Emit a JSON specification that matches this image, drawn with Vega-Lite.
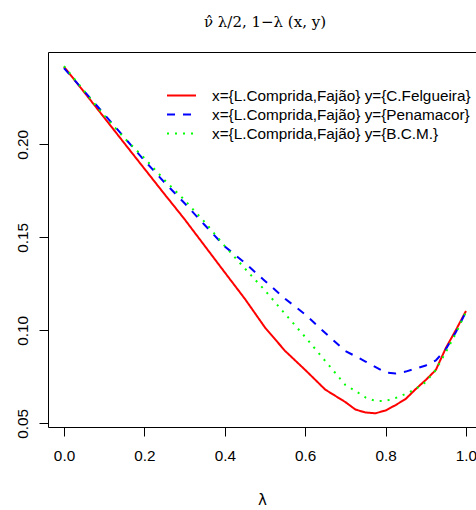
{
  "$schema": "https://vega.github.io/schema/vega-lite/v6.json",
  "autosize": {"type": "none"},
  "padding": {"left": 48, "top": 52, "right": 0, "bottom": 83},
  "width": 428,
  "height": 375,
  "background": "white",
  "config": {
    "font": "Liberation Sans",
    "view": {"stroke": "black", "strokeWidth": 1},
    "axis": {"grid": false, "domain": false, "tickColor": "black", "labelColor": "black", "labelFontSize": 15.3, "labelFont": "Liberation Sans", "tickSize": 9, "titleFontWeight": "normal", "titleColor": "black"}
  },
  "title": {"text": "ν̂ λ/2, 1−λ (x, y)", "font": "DejaVu Serif", "fontSize": 15, "fontWeight": "normal", "anchor": "middle", "offset": 22, "dx": 3, "color": "black"},
  "data": {"values": [
    {"lambda": 0, "value": 0.2417, "series": "A"},
    {"lambda": 0.05, "value": 0.2281, "series": "A"},
    {"lambda": 0.1, "value": 0.2144, "series": "A"},
    {"lambda": 0.15, "value": 0.2006, "series": "A"},
    {"lambda": 0.2, "value": 0.1869, "series": "A"},
    {"lambda": 0.25, "value": 0.1732, "series": "A"},
    {"lambda": 0.3, "value": 0.1597, "series": "A"},
    {"lambda": 0.35, "value": 0.1454, "series": "A"},
    {"lambda": 0.4, "value": 0.1311, "series": "A"},
    {"lambda": 0.45, "value": 0.1169, "series": "A"},
    {"lambda": 0.5, "value": 0.1015, "series": "A"},
    {"lambda": 0.55, "value": 0.0889, "series": "A"},
    {"lambda": 0.6, "value": 0.0787, "series": "A"},
    {"lambda": 0.65, "value": 0.0681, "series": "A"},
    {"lambda": 0.7, "value": 0.0614, "series": "A"},
    {"lambda": 0.725, "value": 0.0574, "series": "A"},
    {"lambda": 0.75, "value": 0.0558, "series": "A"},
    {"lambda": 0.775, "value": 0.0554, "series": "A"},
    {"lambda": 0.8, "value": 0.0569, "series": "A"},
    {"lambda": 0.825, "value": 0.0598, "series": "A"},
    {"lambda": 0.85, "value": 0.0631, "series": "A"},
    {"lambda": 0.875, "value": 0.0684, "series": "A"},
    {"lambda": 0.9, "value": 0.0733, "series": "A"},
    {"lambda": 0.925, "value": 0.0787, "series": "A"},
    {"lambda": 0.95, "value": 0.0905, "series": "A"},
    {"lambda": 0.975, "value": 0.1002, "series": "A"},
    {"lambda": 1.0, "value": 0.1104, "series": "A"},
    {"lambda": 0, "value": 0.2410, "series": "B"},
    {"lambda": 0.05, "value": 0.2286, "series": "B"},
    {"lambda": 0.1, "value": 0.2162, "series": "B"},
    {"lambda": 0.15, "value": 0.2037, "series": "B"},
    {"lambda": 0.2, "value": 0.1913, "series": "B"},
    {"lambda": 0.25, "value": 0.1795, "series": "B"},
    {"lambda": 0.3, "value": 0.1683, "series": "B"},
    {"lambda": 0.35, "value": 0.1566, "series": "B"},
    {"lambda": 0.4, "value": 0.1451, "series": "B"},
    {"lambda": 0.45, "value": 0.1362, "series": "B"},
    {"lambda": 0.5, "value": 0.1265, "series": "B"},
    {"lambda": 0.55, "value": 0.1170, "series": "B"},
    {"lambda": 0.6, "value": 0.1085, "series": "B"},
    {"lambda": 0.65, "value": 0.0985, "series": "B"},
    {"lambda": 0.7, "value": 0.0889, "series": "B"},
    {"lambda": 0.75, "value": 0.0832, "series": "B"},
    {"lambda": 0.8, "value": 0.0773, "series": "B"},
    {"lambda": 0.825, "value": 0.0768, "series": "B"},
    {"lambda": 0.85, "value": 0.0778, "series": "B"},
    {"lambda": 0.9, "value": 0.0811, "series": "B"},
    {"lambda": 0.925, "value": 0.0838, "series": "B"},
    {"lambda": 0.95, "value": 0.0899, "series": "B"},
    {"lambda": 0.975, "value": 0.0991, "series": "B"},
    {"lambda": 1.0, "value": 0.1100, "series": "B"},
    {"lambda": 0, "value": 0.2421, "series": "C"},
    {"lambda": 0.05, "value": 0.2287, "series": "C"},
    {"lambda": 0.1, "value": 0.2155, "series": "C"},
    {"lambda": 0.15, "value": 0.2034, "series": "C"},
    {"lambda": 0.2, "value": 0.1926, "series": "C"},
    {"lambda": 0.25, "value": 0.1808, "series": "C"},
    {"lambda": 0.3, "value": 0.1700, "series": "C"},
    {"lambda": 0.35, "value": 0.1582, "series": "C"},
    {"lambda": 0.4, "value": 0.1453, "series": "C"},
    {"lambda": 0.45, "value": 0.1332, "series": "C"},
    {"lambda": 0.5, "value": 0.1214, "series": "C"},
    {"lambda": 0.55, "value": 0.1088, "series": "C"},
    {"lambda": 0.6, "value": 0.0964, "series": "C"},
    {"lambda": 0.65, "value": 0.0835, "series": "C"},
    {"lambda": 0.7, "value": 0.0706, "series": "C"},
    {"lambda": 0.725, "value": 0.0674, "series": "C"},
    {"lambda": 0.75, "value": 0.0639, "series": "C"},
    {"lambda": 0.775, "value": 0.0620, "series": "C"},
    {"lambda": 0.8, "value": 0.0620, "series": "C"},
    {"lambda": 0.825, "value": 0.0636, "series": "C"},
    {"lambda": 0.85, "value": 0.0658, "series": "C"},
    {"lambda": 0.875, "value": 0.0684, "series": "C"},
    {"lambda": 0.9, "value": 0.0722, "series": "C"},
    {"lambda": 0.925, "value": 0.0787, "series": "C"},
    {"lambda": 0.95, "value": 0.0883, "series": "C"},
    {"lambda": 0.975, "value": 0.0985, "series": "C"},
    {"lambda": 1.0, "value": 0.1099, "series": "C"}
  ]},
  "transform": [
    {"lookup": "series", "from": {"data": {"values": [
      {"series": "A", "label": "x={L.Comprida,Fajão} y={C.Felgueira}"},
      {"series": "B", "label": "x={L.Comprida,Fajão} y={Penamacor}"},
      {"series": "C", "label": "x={L.Comprida,Fajão} y={B.C.M.}"}
    ]}, "key": "series", "fields": ["label"]}}
  ],
  "mark": {"type": "line", "strokeWidth": 2, "clip": true, "strokeCap": "butt"},
  "encoding": {
    "x": {"field": "lambda", "type": "quantitative", "scale": {"domain": [-0.0398, 1.0249], "nice": false, "zero": false},
      "axis": {"values": [0, 0.2, 0.4, 0.6, 0.8, 1.0], "format": ".1f", "title": "λ", "titleFontSize": 15, "titleFont": "DejaVu Sans", "labelPadding": 12, "titlePadding": 29, "labelFlush": false}},
    "y": {"field": "value", "type": "quantitative", "scale": {"domain": [0.04801, 0.24963], "nice": false, "zero": false},
      "axis": {"values": [0.05, 0.1, 0.15, 0.2], "format": ".2f", "title": null, "labelAngle": -90, "labelAlign": "center", "labelBaseline": "bottom", "labelPadding": 9, "labelFlush": false}},
    "color": {"field": "label", "type": "nominal",
      "scale": {"domain": ["x={L.Comprida,Fajão} y={C.Felgueira}", "x={L.Comprida,Fajão} y={Penamacor}", "x={L.Comprida,Fajão} y={B.C.M.}"], "range": ["#FF0000", "#0000FF", "#00FF00"]},
      "legend": {"orient": "none", "legendX": 125, "legendY": 35, "title": null, "labelFontSize": 15.3, "labelColor": "black", "symbolSize": 210, "symbolStrokeWidth": 2, "labelOffset": 22, "rowPadding": 2, "padding": 0, "symbolType": "M-2,0H2", "labelLimit": 400}},
    "strokeDash": {"field": "label", "type": "nominal",
      "scale": {"domain": ["x={L.Comprida,Fajão} y={C.Felgueira}", "x={L.Comprida,Fajão} y={Penamacor}", "x={L.Comprida,Fajão} y={B.C.M.}"], "range": [[1, 0], [8, 8], [2, 6]]},
      "legend": null}
  }
}
